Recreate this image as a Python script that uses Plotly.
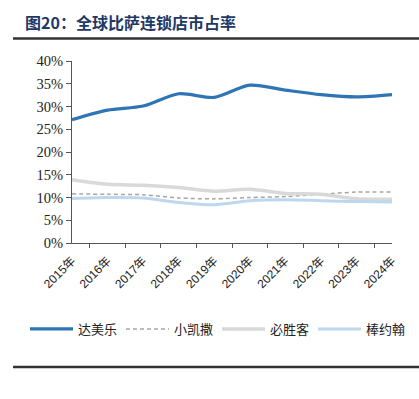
import plotly.graph_objects as go

years = ["2015年", "2016年", "2017年", "2018年", "2019年", "2020年", "2021年", "2022年", "2023年", "2024年"]
dominos = [0.271, 0.292, 0.301, 0.328, 0.320, 0.347, 0.336, 0.326, 0.321, 0.326]
little_caesars = [0.108, 0.107, 0.106, 0.099, 0.097, 0.100, 0.102, 0.107, 0.112, 0.112]
pizza_hut = [0.139, 0.129, 0.127, 0.122, 0.114, 0.118, 0.109, 0.107, 0.097, 0.096]
papa_johns = [0.098, 0.100, 0.099, 0.089, 0.084, 0.093, 0.095, 0.093, 0.091, 0.090]
y_ticks = [0, 0.05, 0.10, 0.15, 0.20, 0.25, 0.30, 0.35, 0.40]

series = [
    ("达美乐", dominos, dict(color="#2E75B6", width=3.2)),
    ("小凯撒", little_caesars, dict(color="#A6A6A6", width=1.5, dash="4px,3px")),
    ("必胜客", pizza_hut, dict(color="#D9D9D9", width=3.5)),
    ("棒约翰", papa_johns, dict(color="#BDD7EE", width=3)),
]

fig = go.Figure()
for name, vals, line in series:
    fig.add_trace(go.Scatter(x=years, y=vals, name=name, mode="lines",
                             line=dict(shape="spline", smoothing=0.8, **line)))

W, H = 419, 399
L, R, T, B = 72, 392, 61, 243
fig.update_layout(
    width=W, height=H,
    margin=dict(l=L, r=W - R, t=T, b=H - B, autoexpand=False),
    paper_bgcolor="white", plot_bgcolor="white",
    showlegend=True,
    legend=dict(orientation="h", x=(25 - L) / (R - L), xanchor="left",
                y=(B - 329) / (B - T), yanchor="middle",
                font=dict(family="Noto Sans CJK SC", size=13, color="#222"),
                entrywidth=38, entrywidthmode="pixels", itemwidth=43,
                tracegroupgap=0, bgcolor="rgba(0,0,0,0)"),
    xaxis=dict(type="category", showline=True, linecolor="#555", linewidth=1,
               ticks="outside", tickson="boundaries", ticklen=4, tickcolor="#555",
               tickangle=-45, showgrid=False, ticklabelstandoff=5,
               tickfont=dict(family="Liberation Sans, Noto Sans CJK SC", size=12, color="#222")),
    yaxis=dict(range=[0, 0.40], tickvals=y_ticks, tickformat=".0%",
               showline=True, linecolor="#555", linewidth=1,
               ticks="outside", ticklen=5, tickcolor="#555", showgrid=False, zeroline=False,
               tickfont=dict(family="Liberation Serif", size=14.5, color="#222")),
    font=dict(family="Liberation Serif"),
)

fig.add_annotation(xref="paper", yref="paper", x=(23 - L) / (R - L), y=(B - 22) / (B - T),
                   xanchor="left", yanchor="middle", showarrow=False,
                   text="<b>图20：全球比萨连锁店市占率</b>",
                   font=dict(family="Noto Sans CJK SC", size=16, color="#1F3864"))

for yy in (38.5, 367):
    fig.add_shape(type="line", xref="paper", yref="paper",
                  x0=(13 - L) / (R - L), x1=(W - L) / (R - L),
                  y0=(B - yy) / (B - T), y1=(B - yy) / (B - T),
                  line=dict(color="#333", width=2.5))

fig.write_html("out.html", config={"displayModeBar": False},
               post_script="document.body.style.margin='0';document.body.style.padding='0';")
